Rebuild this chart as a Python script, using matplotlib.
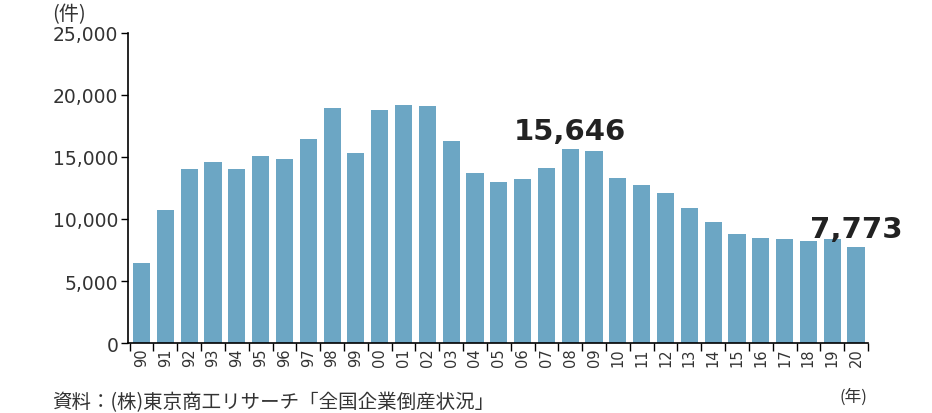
import numpy as np
import matplotlib.pyplot as plt

plt.rcParams['font.family'] = ['DejaVu Sans', 'Noto Sans CJK JP']

# 全国企業倒産件数（東京商工リサーチ）
years = ["90", "91", "92", "93", "94", "95", "96", "97", "98", "99",
         "00", "01", "02", "03", "04", "05", "06", "07", "08", "09",
         "10", "11", "12", "13", "14", "15", "16", "17", "18", "19", "20"]
counts = [6468, 10723, 14069, 14564, 14061, 15108, 14834, 16464, 18988, 15352,
          18769, 19164, 19087, 16255, 13679, 12998, 13245, 14091, 15646, 15480,
          13321, 12734, 12124, 10855, 9731, 8812, 8446, 8405, 8235, 8383, 7773]
yticks = [0, 5000, 10000, 15000, 20000, 25000]
highlights = {"08": "15,646", "20": "7,773"}

bar_color = "#6ca6c4"
text_color = "#333333"
cjk = ['Noto Sans CJK JP', 'DejaVu Sans']

fig = plt.figure(figsize=(9.32, 4.14), dpi=100)
ax = fig.add_axes([0.1373, 0.169, 0.794, 0.749])

x = np.arange(len(years))
ax.bar(x, counts, width=0.72, color=bar_color)

# labels above the two highlighted bars
label_y = {"08": 17100, "20": 9190}
for yr, txt in highlights.items():
    i = years.index(yr)
    ax.text(i, label_y[yr], txt, ha="center", va="center", fontsize=21,
            fontweight="bold", color="#222222")

ax.set_xlim(-0.57, len(years) - 0.5)
ax.set_ylim(0, 25000)

ax.set_yticks(yticks)
ax.set_yticklabels([f"{v:,}" for v in yticks], fontsize=13.5, color=text_color)
ax.tick_params(axis="y", direction="out", length=5, width=1, pad=2)

ax.set_xticks(x)
ax.set_xticklabels(years, rotation=90, fontsize=10.5, color=text_color)
ax.tick_params(axis="x", which="major", length=0, pad=3)
ax.set_xticks(np.arange(len(years) + 1) - 0.5, minor=True)
ax.tick_params(axis="x", which="minor", length=6, width=1, direction="out")

for side in ["top", "right"]:
    ax.spines[side].set_visible(False)
ax.spines["left"].set_linewidth(1.2)
ax.spines["bottom"].set_linewidth(1.2)

fig.text(52 / 932, 1 - 15 / 414, "(件)", fontsize=14.5, color=text_color,
         ha="left", va="center", family=cjk)
fig.text(853 / 932, 1 - 397 / 414, "(年)", fontsize=12, color=text_color,
         ha="center", va="center", family=cjk)
fig.text(52 / 932, 1 - 403 / 414, "資料：(株)東京商工リサーチ「全国企業倒産状況」",
         fontsize=14, color=text_color, ha="left", va="center", family=cjk)

fig.savefig("out.png", dpi=100, facecolor="white")
